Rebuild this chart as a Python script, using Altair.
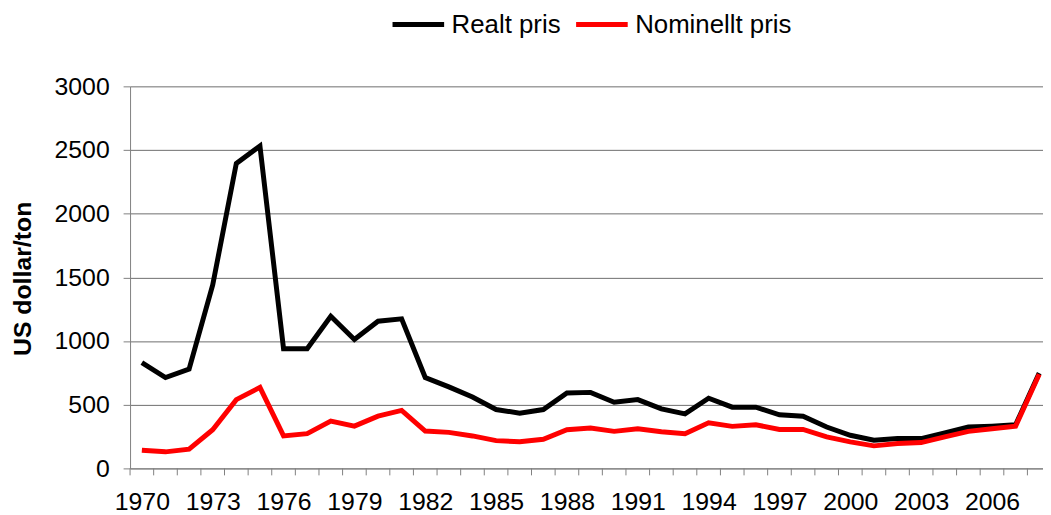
import altair as alt
import pandas as pd

years = list(range(1970, 2009))
real = [831, 714, 779, 1441, 2395, 2532, 940, 940, 1195, 1013, 1156, 1174, 714,
        640, 560, 462, 434, 462, 592, 597, 519, 540, 467, 428, 551,
        481, 481, 421, 410, 325, 260, 221, 234, 234, 278, 325, 332, 343, 748]
nominal = [143, 130, 151, 304, 540, 636, 255, 273, 371, 332, 410, 455, 293,
           283, 255, 218, 210, 229, 304, 317, 291, 312, 288, 273, 358,
           330, 343, 306, 306, 247, 208, 177, 195, 203, 247, 291, 312, 332, 740]
series_names = ["Realt pris", "Nominellt pris"]
series_colors = ["#000000", "#ff0000"]
y_ticks = [0, 500, 1000, 1500, 2000, 2500, 3000]
x_label_years = years[::3]
x_tick_bounds = [y - 0.5 for y in years]

df = pd.DataFrame(
    [{"year": y, "value": v, "series": series_names[0]} for y, v in zip(years, real)]
    + [{"year": y, "value": v, "series": series_names[1]} for y, v in zip(years, nominal)]
)
ticks_df = pd.DataFrame({"year": x_tick_bounds})

FONT = "Liberation Sans"
PLOT_H = 385

x_enc = alt.X(
    "year:Q",
    scale=alt.Scale(domain=[1969.5, 2008.16], nice=False, zero=False),
    axis=alt.Axis(
        values=x_label_years,
        format="d",
        labelOverlap=False,
        labelFlush=False,
        labelBound=False,
        labelFont=FONT,
        labelFontSize=25,
        labelColor="#000000",
        labelPadding=21,
        ticks=False,
        tickSize=0,
        domainColor="#808080",
        grid=False,
        title=None,
    ),
)

y_enc = alt.Y(
    "value:Q",
    scale=alt.Scale(domain=[0, 3000], nice=False),
    axis=alt.Axis(
        values=y_ticks,
        format="d",
        labelFont=FONT,
        labelFontSize=25,
        labelColor="#000000",
        labelPadding=14,
        tickSize=7,
        tickColor="#808080",
        domainColor="#808080",
        grid=True,
        gridColor="#6e6e6e",
        gridWidth=1,
        title="US dollar/ton",
        titleFont=FONT,
        titleFontSize=25,
        titleFontWeight="bold",
        titleColor="#000000",
        titleAngle=270,
        titleX=-108.5,
        titleY=193.5,
        titleAlign="center",
        titleBaseline="middle",
    ),
)

color_enc = alt.Color(
    "series:N",
    scale=alt.Scale(domain=series_names, range=series_colors),
    legend=alt.Legend(
        title=None,
        orient="none",
        direction="horizontal",
        legendX=262,
        legendY=-91,
        symbolType="stroke",
        symbolSize=2704,
        symbolStrokeWidth=5,
        labelFont=FONT,
        labelFontSize=26,
        labelColor="#000000",
        labelOffset=5,
        columnPadding=5,
        padding=0,
    ),
)

base = alt.Chart(df).encode(x=x_enc, y=y_enc, color=color_enc)

black = base.transform_filter(alt.datum.series == series_names[0]).mark_line(strokeWidth=5)
red = base.transform_filter(alt.datum.series == series_names[1]).mark_line(strokeWidth=5)

tick_marks = alt.Chart(ticks_df).mark_rule(color="#808080", strokeWidth=1).encode(
    x=x_enc,
    y=alt.value(PLOT_H),
    y2=alt.value(PLOT_H + 7),
)

chart = alt.layer(tick_marks, black, red).properties(
    width=920,
    height=PLOT_H,
    autosize="none",
    padding={"left": 123, "top": 77, "right": 0, "bottom": 45},
    background="#ffffff",
).configure_view(stroke=None)

chart.save("out.html", embed_options={"renderer": "svg", "actions": False})
